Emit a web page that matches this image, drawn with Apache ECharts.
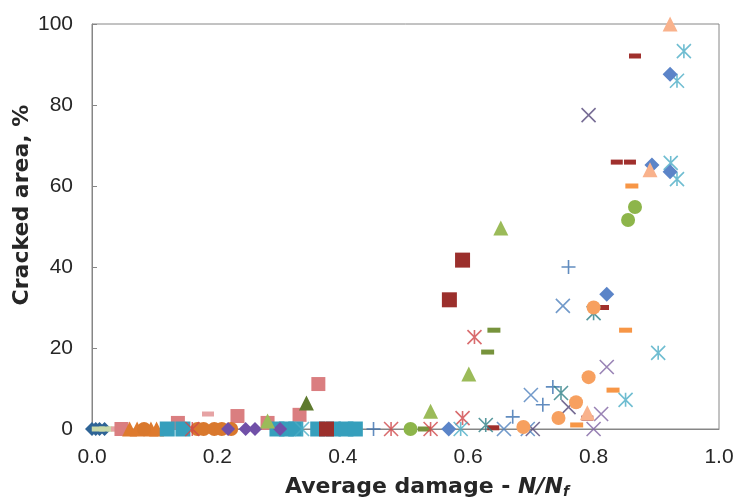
<!DOCTYPE html>
<html>
<head>
<meta charset="utf-8">
<script src="https://cdn.jsdelivr.net/npm/echarts@6/dist/echarts.min.js"></script>
<style>
  html, body { margin: 0; padding: 0; background: #fff; }
  #chart { width: 735px; height: 497px; }
</style>
</head>
<body>
<div id="chart"></div>
<script>
// Axis ticks
const xTicks = [0.0, 0.2, 0.4, 0.6, 0.8, 1.0];
const yTicks = [0, 20, 40, 60, 80, 100];

// Measured points per specimen: [average damage N/Nf, cracked area %]
const navyDiamond = [[0, 0], [0.006, 0], [0.012, 0], [0.02, 0]];
const paleGreenDash = [[0.01, 0], [0.022, 0], [0.034, 0]];
const pinkDash = [[0.04, 0], [0.185, 3.7]];
const pinkSquare = [[0.047, 0], [0.137, 1.5], [0.232, 3.2], [0.28, 1.5], [0.331, 3.5], [0.361, 11.1]];
const orangeTriangle = [[0.06, 0], [0.072, 0], [0.094, 0], [0.103, 0]];
const orangeCircle = [[0.083, 0], [0.168, 0], [0.178, 0], [0.195, 0], [0.207, 0], [0.222, 0]];
const tealSquare = [[0.12, 0], [0.145, 0], [0.295, 0], [0.31, 0], [0.325, 0], [0.36, 0], [0.385, 0], [0.405, 0], [0.42, 0]];
const purpleDiamond = [[0.217, 0], [0.245, 0], [0.26, 0], [0.3, 0]];
const darkRedSquare = [[0.374, 0], [0.57, 31.9], [0.591, 41.7]];
const darkRedDash = [[0.64, 0.3], [0.79, 2.7], [0.815, 30], [0.837, 65.9], [0.858, 65.9], [0.866, 92.1]];
const orangeDash = [[0.773, 1], [0.831, 9.6], [0.851, 24.4], [0.861, 60]];
const oliveDash = [[0.53, 0], [0.631, 19], [0.641, 24.4]];
const lightGreenTriangle = [[0.28, 2], [0.54, 4.4], [0.601, 13.6], [0.652, 49.6]];
const darkGreenTriangle = [[0.342, 6.4]];
const redAsterisk = [[0.16, 0], [0.477, 0], [0.54, 0], [0.591, 2.7], [0.61, 22.7]];
const lightBlueAsterisk = [[0.335, 0], [0.588, 0], [0.851, 7.2], [0.903, 18.8], [0.923, 65.7], [0.933, 61.7], [0.933, 86], [0.944, 93.3]];
const steelDiamond = [[0.569, 0], [0.821, 33.3], [0.893, 65.2], [0.922, 63.5], [0.922, 87.6]];
const darkPurpleX = [[0.703, 0], [0.76, 5.4], [0.792, 77.5]];
const lavenderX = [[0.8, 0], [0.812, 3.7], [0.821, 15.3]];
const steelX = [[0.657, 0], [0.695, 0], [0.7, 8.4], [0.751, 30.4]];
const bluePlus = [[0.449, 0], [0.671, 3], [0.719, 6], [0.735, 10.4], [0.76, 40]];
const tealAsterisk = [[0.628, 1], [0.748, 8.9], [0.8, 28.6]];
const lightOrangeCircle = [[0.688, 0.5], [0.744, 2.7], [0.772, 6.6], [0.792, 12.8], [0.8, 30]];
const greenCircle = [[0.508, 0], [0.855, 51.6], [0.866, 54.8]];
const peachTriangle = [[0.79, 4], [0.89, 64], [0.922, 100]];

// Axis titles
const xTitle = 'Average damage - {i|N/N}{s|f}';
const yTitle = 'Cracked area, %';

// Marker shapes drawn as strokes
const X_PATH = 'path://M0 0 L100 100 M100 0 L0 100';
const STAR_PATH = 'path://M0 0 L100 100 M100 0 L0 100 M50 0 L50 100';
const PLUS_PATH = 'path://M50 0 L50 100 M0 50 L100 50';

function filled(data, symbol, size, color) {
  return {
    type: 'scatter', data, symbol, symbolSize: size, clip: false,
    itemStyle: { color, opacity: 1 }, silent: true
  };
}
function stroked(data, path, size, color) {
  return {
    type: 'scatter', data, symbol: path, symbolSize: size, clip: false,
    itemStyle: { color: 'rgba(0,0,0,0)', borderColor: color, borderWidth: 1.6 }, silent: true
  };
}

const series = [
  filled(navyDiamond, 'diamond', 14, '#2F6496'),
  filled(paleGreenDash, 'rect', [13, 5], '#C9D9A8'),
  filled(pinkDash, 'rect', [12, 5], '#E6A3A4'),
  filled(pinkSquare, 'rect', 14, '#DA7E80'),
  filled(orangeTriangle, 'triangle', 15, '#DE7A2E'),
  filled(orangeCircle, 'circle', 14, '#D9782D'),
  filled(tealSquare, 'rect', 15, '#369FBC'),
  filled(purpleDiamond, 'diamond', 14, '#7150A8'),
  filled(darkRedSquare, 'rect', 15, '#9B2F2C'),
  filled(darkRedDash, 'rect', [12, 5], '#A0302D'),
  filled(orangeDash, 'rect', [13, 5], '#F79646'),
  filled(oliveDash, 'rect', [13, 5], '#77933C'),
  filled(lightGreenTriangle, 'triangle', 15, '#9BBB59'),
  filled(darkGreenTriangle, 'triangle', 15, '#5E7A2E'),
  stroked(redAsterisk, STAR_PATH, 14, '#D0474A'),
  stroked(lightBlueAsterisk, STAR_PATH, 14, '#4BACC6'),
  filled(steelDiamond, 'diamond', 15, '#5B84C8'),
  stroked(darkPurpleX, X_PATH, 14, '#55497A'),
  stroked(lavenderX, X_PATH, 14, '#8064A2'),
  stroked(steelX, X_PATH, 14, '#4F81BD'),
  stroked(bluePlus, PLUS_PATH, 14, '#3A6FAF'),
  stroked(tealAsterisk, STAR_PATH, 14, '#2E7F86'),
  filled(lightOrangeCircle, 'circle', 14, '#F7A05F'),
  filled(greenCircle, 'circle', 14, '#8DB54A'),
  filled(peachTriangle, 'triangle', 15, '#F9B28C')
];

const TITLE_FONT = 'bold 22px "DejaVu Sans", sans-serif';
const chart = echarts.init(document.getElementById('chart'), null, { renderer: 'canvas' });
chart.setOption({
  animation: false,
  backgroundColor: '#fff',
  textStyle: { fontFamily: 'Liberation Sans, Arial, sans-serif' },
  grid: {
    left: 92, right: 16, top: 24, bottom: 68,
    outerBoundsMode: 'none', containLabel: false,
    show: true, borderColor: '#868686', borderWidth: 1, backgroundColor: 'transparent'
  },
  xAxis: {
    type: 'value',
    min: xTicks[0], max: xTicks[xTicks.length - 1], interval: 0.2,
    axisLine: { show: true, lineStyle: { color: '#868686', width: 1 } },
    axisTick: { show: false },
    splitLine: { show: false },
    axisLabel: { color: '#262626', fontSize: 21, margin: 18, formatter: v => v.toFixed(1) }
  },
  yAxis: {
    type: 'value',
    min: yTicks[0], max: yTicks[yTicks.length - 1], interval: 20,
    axisLine: { show: true, lineStyle: { color: '#868686', width: 1 } },
    axisTick: { show: true, inside: true, length: 5, lineStyle: { color: '#868686' } },
    splitLine: { show: false },
    axisLabel: { color: '#262626', fontSize: 21, margin: 19 }
  },
  graphic: [
    {
      type: 'text', x: 22, y: 205, rotation: Math.PI / 2,
      style: { text: yTitle, font: TITLE_FONT, fill: '#262626', align: 'center', verticalAlign: 'middle' }
    },
    {
      type: 'text', x: 427, y: 487,
      style: {
        text: xTitle, font: TITLE_FONT, fill: '#262626', align: 'center', verticalAlign: 'middle',
        rich: {
          i: { font: 'italic bold 22px "DejaVu Sans", sans-serif', fill: '#262626' },
          s: { font: 'italic bold 14px "DejaVu Sans", sans-serif', fill: '#262626', padding: [10, 0, 0, 0] }
        }
      }
    }
  ],
  series
});
</script>
</body>
</html>
